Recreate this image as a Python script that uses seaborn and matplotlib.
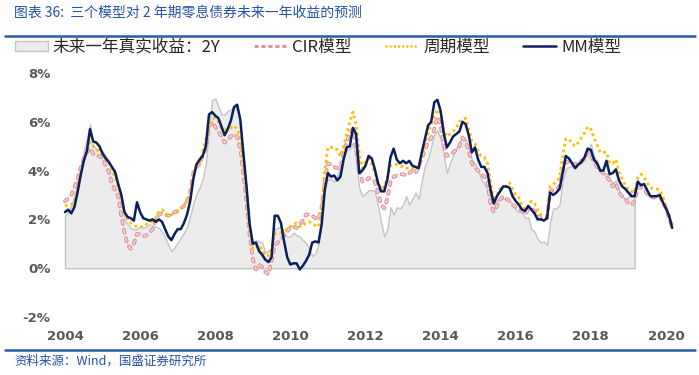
import numpy as np
import pandas as pd
import seaborn as sns
import matplotlib.pyplot as plt
from matplotlib.lines import Line2D
from matplotlib.patches import Patch

# monthly values (%), Jan 2004 - Mar 2020
mm_model = [
    2.3, 2.4, 2.25, 2.5, 3.1, 3.8, 4.4, 4.8, 5.7, 5.2, 5.15, 5.0,
    4.7, 4.5, 4.35, 4.15, 3.95, 3.45, 3.0, 2.3, 2.1, 2.05, 1.95, 2.7,
    2.3, 2.05, 2.0, 1.95, 2.0, 1.9, 2.0, 1.9, 1.6, 1.3, 1.15, 1.4,
    1.6, 1.6, 1.85, 2.2, 2.75, 3.65, 4.25, 4.45, 4.6, 5.0, 6.3, 6.4,
    6.25, 6.15, 5.8, 5.45, 5.7, 6.05, 6.6, 6.7, 6.1, 4.7, 3.35, 1.8,
    1.0, 1.05, 0.7, 0.55, 0.35, 0.25, 0.45, 2.15, 2.15, 1.85, 1.1, 0.45,
    0.15, 0.2, 0.2, -0.05, 0.1, 0.3, 0.55, 1.05, 1.1, 1.05, 1.8, 3.2,
    3.9, 3.75, 3.8, 3.6, 3.75, 4.45, 4.95, 5.0, 5.75, 5.5, 3.9, 4.0,
    4.2, 4.6, 4.5, 4.05, 3.5, 3.15, 3.15, 3.65, 4.55, 4.9, 4.45, 4.3,
    4.4, 4.3, 4.4, 4.2, 4.15, 4.1, 4.75, 5.3, 5.85, 6.0, 6.8, 6.9,
    6.45, 5.55, 4.95, 5.15, 5.4, 5.5, 5.6, 6.0, 5.9, 5.45, 4.75, 4.95,
    4.45, 4.15, 4.15, 3.9, 3.2, 2.65, 2.95, 3.15, 3.35, 3.35, 3.3, 2.95,
    2.75, 2.6, 2.4, 2.35, 2.55, 2.4, 2.25, 2.0, 2.0, 1.95, 2.05, 3.1,
    3.0, 3.1, 3.25, 3.9, 4.6, 4.5, 4.3, 4.1, 4.25, 4.35, 4.55, 4.9,
    4.85, 4.45, 4.3, 4.0, 4.0, 4.4, 3.85, 3.9, 4.05, 3.6, 3.35, 3.25,
    3.1, 2.95, 2.95, 3.55, 3.4, 3.45, 3.2, 2.95, 2.95, 2.95, 3.0, 2.7,
    2.45, 2.15, 1.65,
]
cycle_model = [
    2.55, 2.6, 2.6, 2.75, 3.3, 3.9, 4.4, 4.8, 5.15, 5.0, 4.9, 4.75,
    4.65, 4.5, 4.35, 4.05, 3.7, 3.4, 2.8, 2.3, 2.0, 1.85, 1.75, 1.7,
    1.7, 1.7, 1.8, 1.85, 1.95, 2.05, 2.3, 2.4, 2.25, 2.15, 2.2, 2.25,
    2.3, 2.45, 2.6, 2.75, 3.0, 3.8, 4.25, 4.25, 4.8, 5.3, 5.9, 6.1,
    6.15, 6.0, 5.75, 5.7, 5.7, 5.75, 5.85, 5.7, 5.4, 4.3, 3.0, 1.6,
    0.8, 0.85, 0.95, 0.7, 0.55, 0.5, 0.85, 1.4, 1.45, 1.45, 1.5, 1.6,
    1.7, 1.8, 1.85, 1.7, 1.75, 1.85, 1.9, 1.85, 1.75, 1.7, 2.4, 4.0,
    4.95, 4.95, 4.95, 4.85, 4.6, 5.0, 5.5, 6.0, 6.4, 5.9, 4.7, 4.1,
    4.35, 4.5, 4.25, 3.9, 3.5, 3.25, 3.35, 3.7, 4.2, 4.25, 4.25, 4.2,
    4.15, 4.1, 4.1, 4.1, 4.05, 4.2, 4.6, 5.15, 5.5, 5.9, 6.2, 6.5,
    6.35, 5.65, 5.4, 5.5, 5.6, 5.75, 6.0, 6.1, 6.15, 5.7, 5.2, 5.1,
    4.75, 4.6, 4.55, 4.3, 3.5, 2.75, 3.0, 3.25, 3.3, 3.35, 3.5, 3.25,
    3.0, 2.9, 2.55, 2.4, 2.55, 2.75, 2.65, 2.4, 2.2, 2.15, 2.15, 3.35,
    3.45, 3.55, 3.7, 4.6, 5.3, 5.3, 5.1, 5.0, 5.15, 5.35, 5.55, 5.8,
    5.7, 5.35, 5.05, 4.75, 4.75, 4.75, 4.3, 4.3, 4.45, 3.95, 3.65, 3.4,
    3.2, 3.15, 3.1, 3.7, 3.85, 3.75, 3.5, 3.3, 3.25, 3.25, 3.2, 2.95,
    2.5, 2.2, 1.55,
]
cir_model = [
    2.75, 2.85, 3.0, 3.3, 3.65, 4.1, 4.5, 4.75, 4.9, 4.7, 4.6, 4.6,
    4.5, 4.2, 3.95, 3.45, 3.2, 2.95, 2.15, 1.45, 0.95, 0.8, 1.0, 1.4,
    1.4, 1.3, 1.35, 1.45, 1.6, 2.0, 2.2, 2.25, 2.2, 2.15, 2.2, 2.3,
    2.35, 2.45, 2.55, 2.75, 3.1, 3.9, 4.15, 4.25, 4.6, 4.9, 5.8, 6.0,
    5.8, 5.6, 5.4, 5.15, 5.25, 5.4, 5.5, 5.4, 4.9, 3.85, 2.7, 1.35,
    0.4, -0.05, 0.15, 0.05, -0.15, -0.25, 0.3, 0.95, 1.05, 1.15, 1.35, 1.5,
    1.7, 1.7, 1.65, 1.8, 1.95, 2.2, 2.2, 2.15, 2.05, 2.0, 2.5, 3.6,
    4.3, 4.25, 4.15, 4.1, 4.1, 4.7, 5.2, 5.55, 5.7, 5.2, 4.0, 3.55,
    3.55, 3.7, 3.65, 3.55, 3.1, 2.6, 2.45, 2.85, 3.55, 3.75, 3.8, 3.85,
    3.85, 3.8, 3.9, 4.0, 3.9, 4.15, 4.5, 4.85, 5.15, 5.35, 5.7, 6.2,
    5.85, 5.1, 4.6, 4.65, 4.75, 4.85, 5.0, 5.35, 5.2, 4.8, 4.3, 4.1,
    4.0, 3.85, 3.75, 3.5, 2.6, 2.3, 2.55, 2.8, 2.95, 2.85, 2.75, 2.6,
    2.5, 2.45, 2.35, 2.2, 2.4, 2.45, 2.35, 2.15, 2.05, 2.05, 2.05, 3.15,
    3.2, 3.25, 3.35, 4.0, 4.35, 4.35, 4.3, 4.25, 4.35, 4.4, 4.45, 4.75,
    4.65, 4.35, 4.15, 4.0, 3.9, 3.75, 3.6, 3.35, 3.5, 3.1, 2.95, 2.85,
    2.65, 2.6, 2.75, 3.3, 3.3, 3.25, 3.05, 2.95, 2.9, 2.95, 2.95, 2.7,
    2.45, 2.05, 1.7,
]
# realised next-year return of the 2Y zero, Jan 2004 - Mar 2019
real_2y = [
    2.15, 2.3, 2.55, 3.0, 3.5, 4.2, 4.8, 5.3, 5.9, 5.0, 4.9, 4.85,
    4.8, 4.6, 4.4, 4.1, 3.75, 3.3, 2.9, 2.0, 1.8, 1.65, 1.6, 1.6,
    1.7, 1.65, 1.7, 1.8, 1.75, 1.7, 1.65, 1.5, 1.25, 0.95, 0.7, 0.85,
    1.05, 1.25, 1.45, 1.7, 2.15, 2.65, 3.05, 3.3, 3.65, 4.3, 5.75, 6.9,
    6.95, 6.65, 6.3, 6.3, 6.45, 6.5, 6.6, 6.5, 5.9, 4.6, 3.2, 1.7,
    1.05, 1.15, 1.1, 1.05, 0.65, 0.7, 0.75, 1.6, 1.65, 1.7, 1.45, 1.3,
    1.3, 1.45, 1.35, 1.3, 1.15, 1.05, 0.8, 0.5, 0.6, 1.0, 1.9, 3.5,
    3.65, 3.65, 3.55, 3.8, 4.2, 4.6, 4.85, 4.9, 5.15, 4.4, 3.3, 2.95,
    3.05, 3.2, 3.2, 3.15, 2.55, 1.9, 1.3, 1.6, 2.5, 2.2, 2.5, 2.45,
    2.6, 2.95, 2.6, 2.85, 3.1, 2.85, 3.6, 4.2, 4.5, 5.0, 5.5, 5.65,
    5.3, 4.65, 3.9, 4.3, 4.65, 4.9, 5.2, 5.35, 5.3, 4.9, 4.45, 4.3,
    4.0, 3.65, 3.45, 3.2, 2.85, 2.75, 2.75, 2.9, 2.85, 2.8, 2.75, 2.65,
    2.4, 2.3, 2.3, 2.05, 2.1, 1.6, 1.5, 1.2, 1.05, 1.1, 0.95, 1.9,
    2.45, 2.45, 2.6, 3.6, 4.05, 4.15, 4.2, 4.25, 4.25, 4.3, 4.5, 4.75,
    5.1, 4.6, 4.35, 4.05, 3.85, 3.9, 3.65, 3.5, 3.6, 3.2, 2.95, 2.85,
    2.9, 3.15, 3.3,
]
year_ticks = [2004, 2006, 2008, 2010, 2012, 2014, 2016, 2018, 2020]
pct_ticks = [-2, 0, 2, 4, 6, 8]
labels = ["未来一年真实收益：2Y", "CIR模型", "周期模型", "MM模型"]

dates = pd.date_range("2004-01-01", periods=len(mm_model), freq="MS")
df = pd.DataFrame({
    "t": dates.year + (dates.month - 1) / 12,
    "mm": mm_model,
    "cycle": cycle_model,
    "cir": cir_model,
})
t_real = df["t"].iloc[:len(real_2y)]

sns.set_style("white")
plt.rcParams["font.family"] = ["Noto Sans CJK SC", "DejaVu Sans"]
plt.rcParams["lines.scale_dashes"] = False

fig = plt.figure(figsize=(6.99, 3.75), dpi=100)
ax = fig.add_axes([60 / 699, 58 / 375, 620 / 699, 244 / 375])

grey_fill, grey_edge = "#ececec", "#c4c4c4"
pink, pink_in = "#e3939b", "#f7d9dc"
gold, navy = "#ffc000", "#0b1f5e"

ax.fill_between(t_real, 0, real_2y, facecolor=grey_fill, edgecolor=grey_edge, linewidth=1.0)

# CIR: outlined round dashes
sns.lineplot(data=df, x="t", y="cir", ax=ax, color=pink, linewidth=2.8,
             linestyle=(0, (2.2, 4.2)))
ax.lines[-1].set_dash_capstyle("round")
sns.lineplot(data=df, x="t", y="cir", ax=ax, color=pink_in, linewidth=1.1,
             linestyle=(0, (2.2, 4.2)))
ax.lines[-1].set_dash_capstyle("round")

sns.lineplot(data=df, x="t", y="cycle", ax=ax, color=gold, linewidth=2.0,
             linestyle=(0, (2, 2.2)))
ax.lines[-1].set_dash_capstyle("butt")

sns.lineplot(data=df, x="t", y="mm", ax=ax, color=navy, linewidth=1.8)

ax.set_xlim(2003.867, 2020.374)
ax.set_ylim(-2, 8)
ax.set_xticks(year_ticks)
ax.set_xticklabels([str(y) for y in year_ticks])
ax.set_yticks(pct_ticks)
ax.set_yticklabels([f"{v}%" for v in pct_ticks])
ax.set_xlabel("")
ax.set_ylabel("")
for s in ax.spines.values():
    s.set_visible(False)
ax.tick_params(length=0, labelsize=9.5, labelcolor="#595959")
ax.tick_params(axis="x", pad=9)
ax.tick_params(axis="y", pad=7)
for lab in ax.get_xticklabels() + ax.get_yticklabels():
    lab.set_fontweight("bold")
    lab.set_family("DejaVu Sans")
ax.grid(False)

handles = [
    Patch(facecolor=grey_fill, edgecolor=grey_edge),
    Line2D([], [], color=pink, linewidth=2.2, linestyle=(0, (3, 2))),
    Line2D([], [], color=gold, linewidth=1.8, linestyle=(0, (1.5, 1.5))),
    Line2D([], [], color=navy, linewidth=1.8),
]
fig.legend(handles, labels, loc="center", bbox_to_anchor=(318 / 699, 1 - 47 / 375),
           ncol=4, frameon=False, fontsize=12, handlelength=2.0, handleheight=0.55,
           columnspacing=2.0, handletextpad=0.3)

blue = "#2452a4"
fig.text(14 / 699, 1 - 13 / 375, "图表 36:  三个模型对 2 年期零息债券未来一年收益的预测",
         color=blue, fontsize=10, va="center", ha="left")
fig.text(14 / 699, 1 - 361 / 375, "资料来源：Wind，国盛证券研究所",
         color=blue, fontsize=9, va="center", ha="left")
fig.add_artist(Line2D([5 / 699, 695 / 699], [1 - 36 / 375] * 2,
                      transform=fig.transFigure, color="#2b5aa8", linewidth=1.8))
fig.add_artist(Line2D([5 / 699, 695 / 699], [1 - 350 / 375] * 2,
                      transform=fig.transFigure, color="#2b5aa8", linewidth=1.8))

fig.savefig("out.png", dpi=100)
